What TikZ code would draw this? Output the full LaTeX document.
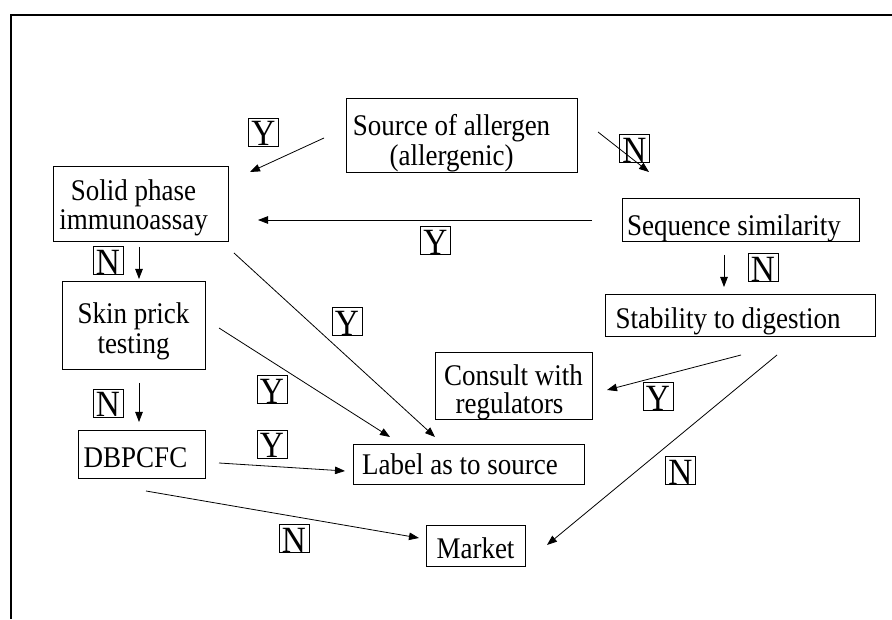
\documentclass[tikz,border=0pt]{standalone}
\usepackage{fontspec}
\setmainfont{Liberation Serif}[FakeStretch=0.9]
\usetikzlibrary{arrows.meta}
\newcommand{\upstrut}[1]{\rule{0pt}{#1}}
\begin{document}
\begin{tikzpicture}[x=1pt,y=1pt,
  boxnode/.style={draw, line width=0.8pt, inner sep=0pt, align=center,
    font=\fontsize{30}{30}\selectfont},
  yn/.style={draw, line width=0.7pt, inner sep=0pt, minimum width=30pt,
    text height=28pt, text depth=0pt, font=\fontsize{37}{38}\selectfont},
  conn/.style={line width=0.8pt, -{Triangle[length=10pt,width=7.5pt]}}]
\useasboundingbox (0,0) rectangle (892,619);
% frame
\draw[line width=2pt] (892,604) -- (11,604) -- (11,0);
% boxes
\node[boxnode, minimum width=231pt, minimum height=74pt] (src) at (461.5,484)
  {\upstrut{36.5pt}Source of allergen\hspace*{20pt}\\(allergenic)\hspace*{20pt}};
\node[boxnode, minimum width=175pt, minimum height=75pt, font=\fontsize{30}{29}\selectfont] (solid) at (140.5,415.5)
  {\upstrut{28.5pt}Solid phase\hspace*{14pt}\\immunoassay\hspace*{14pt}};
\node[boxnode, minimum width=143pt, minimum height=88pt] (skin) at (133.5,294)
  {\upstrut{32.5pt}Skin prick\\testing};
\node[boxnode, minimum width=127pt, minimum height=48pt] (dbp) at (141.5,165)
  {\upstrut{28pt}DBPCFC\hspace*{12pt}};
\node[boxnode, minimum width=237pt, minimum height=42pt] (seq) at (740.5,399)
  {\upstrut{36.5pt}Sequence similarity\hspace*{13pt}};
\node[boxnode, minimum width=270pt, minimum height=42pt] (stab) at (740,304)
  {\upstrut{32.5pt}Stability to digestion\hspace*{24pt}};
\node[boxnode, minimum width=157pt, minimum height=62pt, font=\fontsize{30}{28}\selectfont] (consult) at (513.5,233)
  {\upstrut{32.5pt}Consult with\\regulators\hspace*{8pt}};
\node[boxnode, minimum width=231pt, minimum height=40pt] (label) at (468.5,155)
  {Label as to source\hspace*{17pt}};
\node[boxnode, minimum width=99pt, minimum height=41pt] (market) at (475.5,73.5)
  {\upstrut{26.5pt}Market};
% Y/N labels
\node[yn] (y1) at (263.5,487) {Y};
\node[yn] (n1) at (634.5,470.5) {N};
\node[yn] (y2) at (435.5,378.5) {Y};
\node[yn] (n2) at (763,351.5) {N};
\node[yn] (n3) at (108,358.5) {N};
\node[yn] (y3) at (347,297.5) {Y};
\node[yn] (n4) at (108,216) {N};
\node[yn] (y4) at (272,229.5) {Y};
\node[yn] (y5) at (272,175) {Y};
\node[yn] (y6) at (658,222.5) {Y};
\node[yn] (n5) at (680.5,148.5) {N};
\node[yn] (n6) at (294,80.5) {N};
% connector end points
\coordinate (a1s) at (324,481);   \coordinate (a1e) at (250,447);
\coordinate (a2s) at (598,487);   \coordinate (a2e) at (649,447);
\coordinate (a3s) at (592,399);   \coordinate (a3e) at (258,399);
\coordinate (a4s) at (139,372);   \coordinate (a4e) at (139,340);
\coordinate (a5s) at (139,236);   \coordinate (a5e) at (139,197);
\coordinate (a6s) at (724,364);   \coordinate (a6e) at (724,332);
\coordinate (a7s) at (234,366);   \coordinate (a7e) at (435,182);
\coordinate (a8s) at (219,291);   \coordinate (a8e) at (390,182);
\coordinate (a9s) at (219,156);   \coordinate (a9e) at (345,148);
\coordinate (a10s) at (146,128);  \coordinate (a10e) at (419,81);
\coordinate (a11s) at (741,264);  \coordinate (a11e) at (607,229);
\coordinate (a12s) at (777,264);  \coordinate (a12e) at (547,74);
% connectors
\draw[conn] (a1s) -- (a1e);
\draw[conn] (a2s) -- (a2e);
\draw[conn] (a3s) -- (a3e);
\draw[conn] (a4s) -- (a4e);
\draw[conn] (a5s) -- (a5e);
\draw[conn] (a6s) -- (a6e);
\draw[conn] (a7s) -- (a7e);
\draw[conn] (a8s) -- (a8e);
\draw[conn] (a9s) -- (a9e);
\draw[conn] (a10s) -- (a10e);
\draw[conn] (a11s) -- (a11e);
\draw[conn] (a12s) -- (a12e);
\end{tikzpicture}
\end{document}
